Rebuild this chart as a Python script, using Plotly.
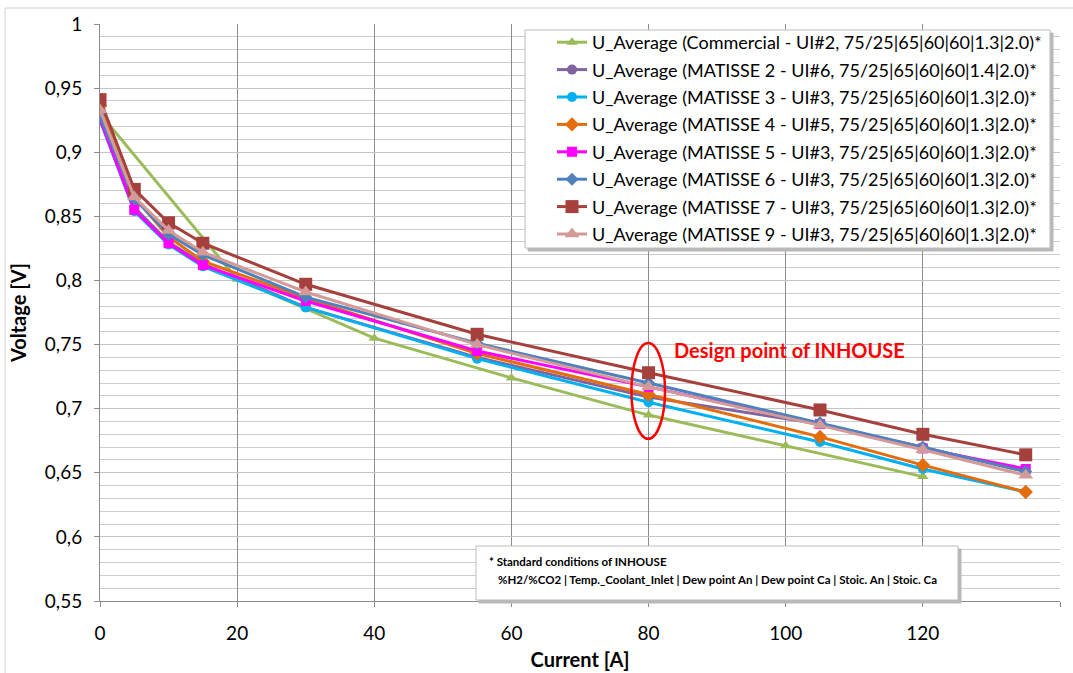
import plotly.graph_objects as go

# ---------------- data ----------------
x_commercial = [0, 20, 40, 60, 80, 100, 120]
y_commercial = [0.930, 0.801, 0.755, 0.724, 0.695, 0.671, 0.647]

x_matisse = [0, 5, 10, 15, 30, 55, 80, 105, 120, 135]
y_m2 = [0.927, 0.857, 0.830, 0.813, 0.779, 0.740, 0.709, 0.688, 0.670, 0.651]
y_m3 = [0.925, 0.854, 0.828, 0.811, 0.779, 0.739, 0.705, 0.674, 0.653, 0.635]
y_m4 = [0.936, 0.865, 0.834, 0.815, 0.786, 0.743, 0.711, 0.678, 0.656, 0.635]
y_m5 = [0.926, 0.855, 0.829, 0.812, 0.784, 0.745, 0.717, 0.688, 0.669, 0.653]
y_m6 = [0.928, 0.864, 0.836, 0.820, 0.787, 0.751, 0.720, 0.689, 0.670, 0.651]
y_m7 = [0.941, 0.871, 0.845, 0.829, 0.797, 0.758, 0.728, 0.699, 0.680, 0.664]
y_m9 = [0.933, 0.865, 0.839, 0.822, 0.791, 0.750, 0.717, 0.687, 0.668, 0.648]

names = [
    "U_Average (Commercial - UI#2, 75/25|65|60|60|1.3|2.0)*",
    "U_Average (MATISSE 2 - UI#6, 75/25|65|60|60|1.4|2.0)*",
    "U_Average (MATISSE 3 - UI#3, 75/25|65|60|60|1.3|2.0)*",
    "U_Average (MATISSE 4 - UI#5, 75/25|65|60|60|1.3|2.0)*",
    "U_Average (MATISSE 5 - UI#3, 75/25|65|60|60|1.3|2.0)*",
    "U_Average (MATISSE 6 - UI#3, 75/25|65|60|60|1.3|2.0)*",
    "U_Average (MATISSE 7 - UI#3, 75/25|65|60|60|1.3|2.0)*",
    "U_Average (MATISSE 9 - UI#3, 75/25|65|60|60|1.3|2.0)*",
]

y_tickvals = [0.55, 0.6, 0.65, 0.7, 0.75, 0.8, 0.85, 0.9, 0.95, 1.0]
y_ticktext = ["0,55", "0,6", "0,65", "0,7", "0,75", "0,8", "0,85", "0,9", "0,95", "1"]
x_tickvals = [0, 20, 40, 60, 80, 100, 120, 140]
x_ticktext = ["0", "20", "40", "60", "80", "100", "120", "140"]

# ---------------- styles ----------------
series = [
    (x_commercial, y_commercial, "#9BBB59", "triangle-up", 10),
    (x_matisse, y_m2, "#8064A2", "circle", 10),
    (x_matisse, y_m3, "#00B0F0", "circle", 10),
    (x_matisse, y_m4, "#E46C0A", "diamond", 11),
    (x_matisse, y_m5, "#FF00FF", "square", 10),
    (x_matisse, y_m6, "#4F81BD", "diamond", 10),
    (x_matisse, y_m7, "#A5403C", "square", 13),
    (x_matisse, y_m9, "#D49A98", "triangle-up", 13),
]

FONT = "Lato"

fig = go.Figure()
for i, ((xs, ys, col, sym, sz), nm) in enumerate(zip(series, names)):
    fig.add_trace(go.Scatter(
        x=xs, y=ys, name=nm, mode="lines+markers",
        line=dict(color=col, width=3),
        marker=dict(color=col, symbol=sym, size=sz),
        legendgroup="g%d" % i,
    ))

L, R, T, B = 100, 13, 24, 72
W, H = 1073, 673
pw, ph = W - L - R, H - T - B


def px2paper(px, py):
    return (px - L) / pw, (H - B - py) / ph


shapes = []
# outer chart border
x0, y0 = px2paper(5, 8)
x1, y1 = px2paper(1078, 690)
shapes.append(dict(type="rect", xref="paper", yref="paper", x0=x0, y0=y1, x1=x1, y1=y0,
                   line=dict(color="#d0d0d0", width=1), fillcolor="rgba(0,0,0,0)", layer="below"))

# legend box with shadow
for (ox, oy, col, lc) in [(3, 3, "#b8b8b8", "#b8b8b8"), (0, 0, "white", "#bdbdbd")]:
    a0, b0 = px2paper(525 + ox, 30 + oy)
    a1, b1 = px2paper(1050 + ox, 248 + oy)
    shapes.append(dict(type="rect", xref="paper", yref="paper", x0=a0, y0=b1, x1=a1, y1=b0,
                       line=dict(color=lc, width=1), fillcolor=col, layer="above"))

# note box with shadow
for (ox, oy, col, lc) in [(3, 3, "#b8b8b8", "#b8b8b8"), (0, 0, "white", "#bdbdbd")]:
    a0, b0 = px2paper(476 + ox, 546 + oy)
    a1, b1 = px2paper(958 + ox, 600 + oy)
    shapes.append(dict(type="rect", xref="paper", yref="paper", x0=a0, y0=b1, x1=a1, y1=b0,
                       line=dict(color=lc, width=1), fillcolor=col, layer="above"))

# design-point ellipse
shapes.append(dict(type="circle", xref="x", yref="y", x0=77.5, x1=82.4, y0=0.6765, y1=0.7512,
                   line=dict(color="#FF0000", width=2.5), layer="above"))

annotations = []
ax, ay = px2paper(487, 561)
annotations.append(dict(xref="paper", yref="paper", x=ax, y=ay, xanchor="left", yanchor="middle",
                        text="<b>* Standard conditions of INHOUSE</b>", showarrow=False,
                        font=dict(family=FONT, size=11.5, color="black")))
ax, ay = px2paper(496, 579)
annotations.append(dict(xref="paper", yref="paper", x=ax, y=ay, xanchor="left", yanchor="middle",
                        text="<b>%H2/%CO2 | Temp._Coolant_Inlet | Dew point An | Dew point Ca | Stoic. An | Stoic. Ca</b>",
                        showarrow=False, font=dict(family=FONT, size=11.5, color="black")))
annotations.append(dict(xref="x", yref="y", x=83.4, y=0.7455, xanchor="left", yanchor="middle",
                        text="<b>Design point of INHOUSE</b>", showarrow=False,
                        font=dict(family=FONT, size=20, color="#FF0000")))

lx, ly = px2paper(552, 24)

fig.update_layout(
    width=W, height=H,
    margin=dict(l=L, r=R, t=T, b=B, autoexpand=False),
    paper_bgcolor="white", plot_bgcolor="white",
    font=dict(family=FONT, size=18, color="black"),
    showlegend=True,
    legend=dict(x=lx, y=ly, xanchor="left", yanchor="top", bgcolor="rgba(0,0,0,0)",
                borderwidth=0, font=dict(family=FONT, size=18, color="black"),
                traceorder="grouped", tracegroupgap=1),
    shapes=shapes,
    annotations=annotations,
    xaxis=dict(range=[0, 140], tickmode="array", tickvals=x_tickvals, ticktext=x_ticktext,
               showgrid=True, gridcolor="#8c8c8c", gridwidth=1, automargin=False,
               showline=True, linecolor="#8c8c8c", linewidth=1,
               ticks="outside", ticklen=5, tickcolor="#8c8c8c",
               zeroline=False, tickfont=dict(size=19), ticklabelstandoff=10,
               title=dict(text="<b>Current [A]</b>", font=dict(size=20), standoff=10)),
    yaxis=dict(range=[0.55, 1.0], tickmode="array", tickvals=y_tickvals, ticktext=y_ticktext,
               showgrid=True, gridcolor="#c4c4c4", gridwidth=1, automargin=False,
               minor=dict(tickmode="linear", tick0=0.55, dtick=0.01, showgrid=True,
                          gridcolor="#cccccc", gridwidth=1, ticks=""),
               showline=True, linecolor="#8c8c8c", linewidth=1,
               ticks="outside", ticklen=5, tickcolor="#8c8c8c",
               zeroline=False, tickfont=dict(size=19), ticklabelstandoff=8,
               title=dict(text="<b>Voltage [V]</b>", font=dict(size=20), standoff=12)),
)

fig.write_html("out.html")
